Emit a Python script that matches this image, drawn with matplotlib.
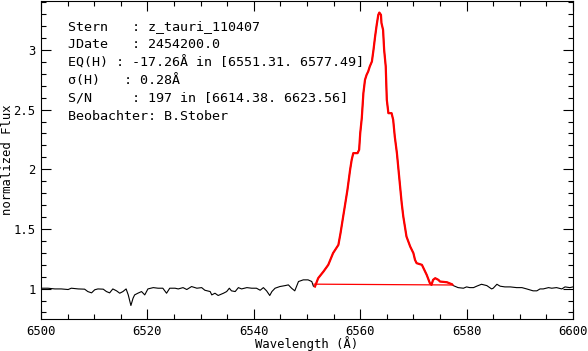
import numpy as np
import matplotlib
matplotlib.use('Agg')
import matplotlib.pyplot as plt
from matplotlib.ticker import MultipleLocator, FormatStrFormatter

# spectrum (wavelength in Angstrom, normalized flux)
wave = [6500.1, 6501.3, 6502.6, 6503.8, 6505.1, 6505.7, 6507.0, 6508.2, 6508.8, 6509.5,
        6510.1, 6510.7, 6511.7, 6512.3, 6512.9, 6513.5, 6514.2, 6514.8, 6515.4, 6516.0,
        6516.4, 6516.9, 6517.3, 6517.6, 6518.2, 6518.9, 6519.5, 6520.1, 6521.1, 6522.0,
        6522.9, 6523.6, 6524.2, 6524.8, 6525.2, 6525.8, 6526.7, 6527.4, 6528.3, 6529.3,
        6530.2, 6530.8, 6531.8, 6532.1, 6532.7, 6533.3, 6534.3, 6534.9, 6535.4, 6535.8,
        6536.5, 6537.1, 6537.7, 6538.7, 6539.6, 6540.5, 6541.2, 6541.8, 6542.4, 6543.0,
        6543.4, 6544.0, 6544.9, 6545.9, 6546.5, 6547.1, 6547.7, 6548.4, 6549.3, 6550.2,
        6550.9, 6551.2,
        6551.5, 6552.1, 6553.1, 6554.0, 6554.9, 6555.9, 6556.3, 6556.8, 6557.1, 6557.6,
        6558.1, 6558.4, 6558.7, 6559.5, 6559.8, 6560.0, 6560.3, 6560.6, 6560.9, 6561.2,
        6561.5, 6561.8, 6562.2, 6562.5, 6562.8, 6563.1, 6563.4, 6563.6, 6563.9, 6564.0,
        6564.3, 6564.5, 6564.8, 6565.0, 6565.3, 6565.9, 6566.2, 6566.5, 6566.9, 6567.2,
        6567.5, 6567.8, 6568.1, 6568.4, 6568.7, 6569.4, 6570.0, 6570.3, 6570.6, 6571.6,
        6571.9, 6572.5, 6573.1, 6573.4, 6573.7, 6574.1, 6574.7, 6575.0, 6576.3, 6577.2,
        6577.5, 6578.4, 6579.4, 6580.0, 6580.6, 6581.3, 6581.9, 6582.8, 6583.8, 6584.7,
        6585.0, 6585.7, 6586.3, 6587.2, 6588.2, 6589.4, 6590.4, 6591.3, 6592.5, 6593.2,
        6593.8, 6594.4, 6595.4, 6596.0, 6596.9, 6597.9, 6598.5, 6599.4, 6600.0]
flux = [1.003, 1.003, 0.997, 0.997, 0.992, 1.003, 0.997, 0.995, 0.975, 0.964,
        0.990, 0.997, 0.995, 0.975, 0.964, 0.997, 0.981, 0.961, 0.975, 0.997,
        0.947, 0.858, 0.919, 0.947, 0.961, 0.975, 0.947, 0.997, 1.008, 1.003,
        1.003, 0.961, 1.003, 1.003, 1.003, 0.997, 1.008, 0.992, 1.017, 1.003,
        1.008, 0.986, 0.975, 0.947, 0.961, 0.942, 0.961, 0.975, 1.003, 0.981,
        0.975, 1.008, 0.997, 1.008, 1.003, 1.003, 0.986, 1.008, 0.981, 0.942,
        0.975, 1.003, 1.017, 1.025, 1.031, 1.003, 0.981, 1.059, 1.073, 1.073,
        1.059, 1.020,
        1.017, 1.087, 1.143, 1.199, 1.297, 1.366, 1.464, 1.604, 1.687, 1.827,
        1.995, 2.079, 2.135, 2.135, 2.163, 2.300, 2.430, 2.638, 2.749, 2.791,
        2.819, 2.861, 2.903, 3.001, 3.112, 3.210, 3.294, 3.313, 3.294, 3.225,
        3.168, 3.001, 2.861, 2.582, 2.470, 2.470, 2.414, 2.274, 2.135, 1.995,
        1.855, 1.716, 1.604, 1.520, 1.436, 1.352, 1.297, 1.241, 1.213, 1.199,
        1.171, 1.115, 1.045, 1.031, 1.073, 1.087, 1.073, 1.059, 1.053, 1.037,
        1.025, 1.008, 1.003, 1.014, 1.008, 1.008, 1.020, 1.036, 1.025, 0.997,
        1.003, 1.036, 1.020, 1.014, 1.014, 1.008, 1.008, 0.997, 0.981, 0.981,
        0.997, 0.997, 1.008, 1.003, 1.008, 0.997, 1.014, 1.008, 1.014]

# integration window and continuum level at its ends
eq_window = [6551.31, 6577.49]
eq_cont = [1.037, 1.030]

info_lines = [
    "Stern   : z_tauri_110407",
    "JDate   : 2454200.0",
    "EQ(H) : -17.26\u00c5 in [6551.31. 6577.49]",
    "\u03c3(H)   : 0.28\u00c5",
    "S/N     : 197 in [6614.38. 6623.56]",
    "Beobachter: B.Stober",
]

plt.rcParams['font.family'] = ['DejaVu Sans Mono', 'DejaVu Sans']
plt.rcParams['font.size'] = 8.8

wave = np.array(wave)
flux = np.array(flux)

fig = plt.figure(figsize=(5.88, 3.51), dpi=100)
ax = fig.add_axes([41/588, 1 - 319/351, 532/588, 318/351])

ax.plot(wave, flux, color='k', lw=0.8)
m = (wave >= eq_window[0]) & (wave <= eq_window[1])
ax.plot(wave[m], flux[m], color='red', lw=1.6)
ax.plot(eq_window, eq_cont, color='red', lw=0.9)

ax.set_xlim(6500, 6600)
ax.set_ylim(0.745, 3.41)
ax.xaxis.set_major_locator(MultipleLocator(20))
ax.xaxis.set_minor_locator(MultipleLocator(5))
ax.yaxis.set_major_locator(MultipleLocator(0.5))
ax.yaxis.set_minor_locator(MultipleLocator(0.1))
ax.yaxis.set_major_formatter(FormatStrFormatter('%g'))
ax.tick_params(which='both', direction='in', top=True, right=True, width=0.8)
ax.tick_params(which='major', length=7, pad=4)
ax.tick_params(which='minor', length=3.5)
for s in ax.spines.values():
    s.set_linewidth(0.8)

ax.set_xlabel("Wavelength (\u00c5)")
ax.set_ylabel("normalized Flux")
ax.xaxis.set_label_coords(0.5, (319 - 344) / 318)
ax.yaxis.set_label_coords((8 - 41) / 532, 0.5)
ax.xaxis.label.set_va('center')
ax.yaxis.label.set_va('center')

y0 = 27
for i, line in enumerate(info_lines):
    fig.text(68/588, 1 - (y0 + i*17.8)/351, line, va='center', ha='left',
             fontsize=9.6)

fig.savefig('out.png', dpi=100)
